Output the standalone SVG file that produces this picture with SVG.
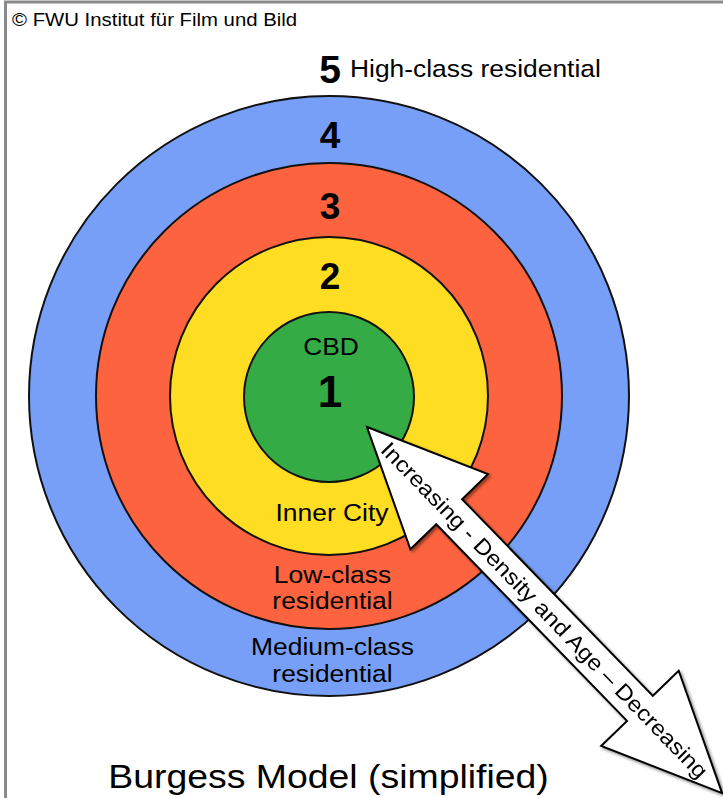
<svg xmlns="http://www.w3.org/2000/svg" width="723" height="798" viewBox="0 0 723 798">
  <style>
    text { font-family: "Liberation Sans", Arial, Helvetica, sans-serif; fill: #000; }
    .num { font-weight: bold; text-anchor: middle; }
    .lbl { font-size: 24px; text-anchor: middle; }
    .ring { stroke: #111; stroke-width: 2; }
  </style>
  <defs>
    <filter id="shadow" x="-10%" y="-10%" width="120%" height="120%">
      <feDropShadow dx="2" dy="2" stdDeviation="1.5" flood-color="#000" flood-opacity="0.45"/>
    </filter>
  </defs>

  <rect x="0" y="0" width="723" height="798" fill="#fff"/>
  <rect id="frame" x="5.5" y="2" width="760" height="850" fill="none" stroke="#8a8a8a" stroke-width="3"/>

  <text id="copyright" font-size="18.5" transform="translate(12,26) scale(1.1,1)">© FWU Institut für Film und Bild</text>

  <g id="zone5">
    <text class="num" font-size="39" x="330" y="83">5</text>
    <text font-size="24" transform="translate(350,77) scale(1.1,1)">High-class residential</text>
  </g>

  <g id="zone4">
    <circle class="ring" cx="329" cy="396" r="300" fill="#779ff8"/>
    <text class="num" font-size="37" x="330" y="148">4</text>
    <text class="lbl" transform="translate(332.5,655) scale(1.1,1)">Medium-class</text>
    <text class="lbl" transform="translate(332.5,682) scale(1.1,1)">residential</text>
  </g>

  <g id="zone3">
    <circle class="ring" cx="329" cy="396" r="233" fill="#fe633f"/>
    <text class="num" font-size="37" x="330" y="219">3</text>
    <text class="lbl" transform="translate(332.5,583) scale(1.1,1)">Low-class</text>
    <text class="lbl" transform="translate(332.5,609) scale(1.1,1)">residential</text>
  </g>

  <g id="zone2">
    <circle class="ring" cx="329" cy="396" r="159" fill="#fedd22"/>
    <text class="num" font-size="37" x="330" y="289">2</text>
    <text class="lbl" transform="translate(332,521) scale(1.1,1)">Inner City</text>
  </g>

  <g id="zone1">
    <circle class="ring" cx="329" cy="397" r="85" fill="#35ab45"/>
    <text class="lbl" transform="translate(331,355) scale(1.1,1)">CBD</text>
    <text class="num" font-size="44" x="330" y="407">1</text>
  </g>

  <g id="connectors">
    <g filter="url(#shadow)">
      <g transform="translate(367,427) rotate(45.87)">
        <polygon points="0,0 118,-54 118,-18 392,-18 392,-54 510,0 392,54 392,18 118,18 118,54" fill="#fff" stroke="#000" stroke-width="2" stroke-linejoin="miter"/>
        <text font-size="22" text-anchor="middle" transform="translate(255,0) scale(1.1,1)" y="7.7">Increasing - Density and Age – Decreasing</text>
      </g>
    </g>
  </g>

  <text id="title" font-size="34" text-anchor="middle" transform="translate(328.5,788) scale(1.1,1)">Burgess Model (simplified)</text>
</svg>
